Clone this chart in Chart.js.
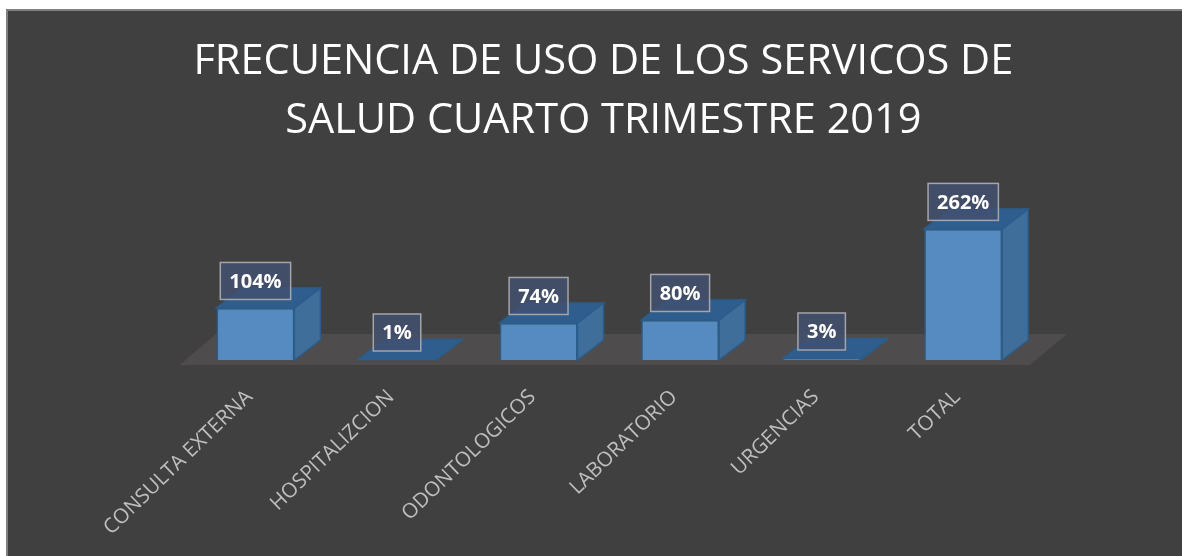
<!DOCTYPE html>
<html lang="es">
<head>
    <meta charset="UTF-8">
    <title>Frecuencia de uso</title>
    <script src="https://cdn.jsdelivr.net/npm/chart.js"></script>
    <style>
        html, body { margin: 0; padding: 0; background: #fff; overflow: hidden; }
        #frame {
            position: absolute;
            left: 6px; top: 9px;
            right: 0; bottom: 0;
            background: #404040;
            border-left: 2px solid #7f7f7f;
            border-top: 2px solid #7f7f7f;
        }
        #chart { position: absolute; left: 0; top: 0; }
    </style>
</head>
<body>
    <div id="frame"></div>
    <canvas id="chart" width="1182" height="556"></canvas>
    <script>
        const categories = ["CONSULTA EXTERNA", "HOSPITALIZCION", "ODONTOLOGICOS", "LABORATORIO", "URGENCIAS", "TOTAL"];
        const values = [104, 1, 74, 80, 3, 262];
        const titleLines = ["FRECUENCIA DE USO DE LOS SERVICOS DE", "SALUD CUARTO TRIMESTRE 2019"];

        const depthX = 26;
        const depthY = -20;

        // floor and box sides are not something Chart.js has, draw them by hand
        const box3d = {
            id: "box3d",
            afterLayout(chart) {
                // title sits a bit left of the plot centre
                chart.titleBlock.left -= 6;
                chart.titleBlock.right -= 6;
            },
            beforeDatasetsDraw(chart) {
                const ctx = chart.ctx;
                const a = chart.chartArea;
                const y0 = chart.scales.y.getPixelForValue(0);
                ctx.save();
                ctx.fillStyle = "#4e4c4c";
                ctx.beginPath();
                ctx.moveTo(a.left - 5, y0 + 5);
                ctx.lineTo(a.right - 4, y0 + 5);
                ctx.lineTo(a.right + 33, y0 - 26);
                ctx.lineTo(a.left + 31, y0 - 26);
                ctx.closePath();
                ctx.fill();

                chart.getDatasetMeta(0).data.forEach(bar => {
                    const l = bar.x - bar.width / 2;
                    const r = bar.x + bar.width / 2;
                    const t = bar.y;
                    const b = bar.base;
                    ctx.strokeStyle = "#2b5d8c";
                    ctx.lineWidth = 1.5;
                    // right side
                    ctx.fillStyle = "#3f6e9b";
                    ctx.beginPath();
                    ctx.moveTo(r, t);
                    ctx.lineTo(r + depthX, t + depthY);
                    ctx.lineTo(r + depthX, b + depthY);
                    ctx.lineTo(r, b);
                    ctx.closePath();
                    ctx.fill();
                    ctx.stroke();
                    // top
                    ctx.fillStyle = "#2f5d8e";
                    ctx.beginPath();
                    ctx.moveTo(l, t);
                    ctx.lineTo(l + depthX, t + depthY);
                    ctx.lineTo(r + depthX, t + depthY);
                    ctx.lineTo(r, t);
                    ctx.closePath();
                    ctx.fill();
                    ctx.stroke();
                });
                ctx.restore();
            },
            afterDatasetsDraw(chart) {
                const ctx = chart.ctx;
                ctx.save();
                ctx.font = "bold 20px 'Open Sans'";
                ctx.textAlign = "center";
                ctx.textBaseline = "middle";
                chart.getDatasetMeta(0).data.forEach((bar, i) => {
                    const txt = values[i] + "%";
                    const w = ctx.measureText(txt).width + 18;
                    const h = 37;
                    const cy = bar.y - 27;
                    ctx.fillStyle = "rgba(66,80,112,0.8)";
                    ctx.fillRect(bar.x - w / 2, cy - h / 2, w, h);
                    ctx.strokeStyle = "#a3a5aa";
                    ctx.lineWidth = 1.5;
                    ctx.strokeRect(bar.x - w / 2, cy - h / 2, w, h);
                    ctx.fillStyle = "#ffffff";
                    ctx.fillText(txt, bar.x, cy + 1);
                });
                ctx.restore();
            }
        };

        new Chart(document.getElementById("chart").getContext("2d"), {
            type: "bar",
            data: {
                labels: categories,
                datasets: [{
                    data: values,
                    backgroundColor: "#558bc0",
                    borderColor: "#2b5d8c",
                    borderWidth: 1.5,
                    categoryPercentage: 1,
                    barPercentage: 0.55
                }]
            },
            options: {
                responsive: false,
                animation: false,
                layout: { padding: { left: 184.7, right: 148, top: 0, bottom: 0 } },
                plugins: {
                    legend: { display: false },
                    tooltip: { enabled: false },
                    title: {
                        display: true,
                        text: titleLines,
                        color: "#ffffff",
                        font: { family: "'Open Sans'", size: 41.5, weight: "normal", lineHeight: 1.42 },
                        padding: { top: 33, bottom: 9 }
                    }
                },
                scales: {
                    x: {
                        afterFit(scale) { scale.height = 196; },
                        grid: { display: false },
                        border: { display: false },
                        ticks: {
                            color: "#bfbfbf",
                            font: { family: "'Open Sans'", size: 20.5 },
                            minRotation: 44,
                            maxRotation: 44,
                            padding: 17,
                            labelOffset: -6,
                            autoSkip: false
                        }
                    },
                    y: {
                        display: false,
                        min: 0,
                        max: 400
                    }
                }
            },
            plugins: [box3d]
        });
    </script>
</body>
</html>
